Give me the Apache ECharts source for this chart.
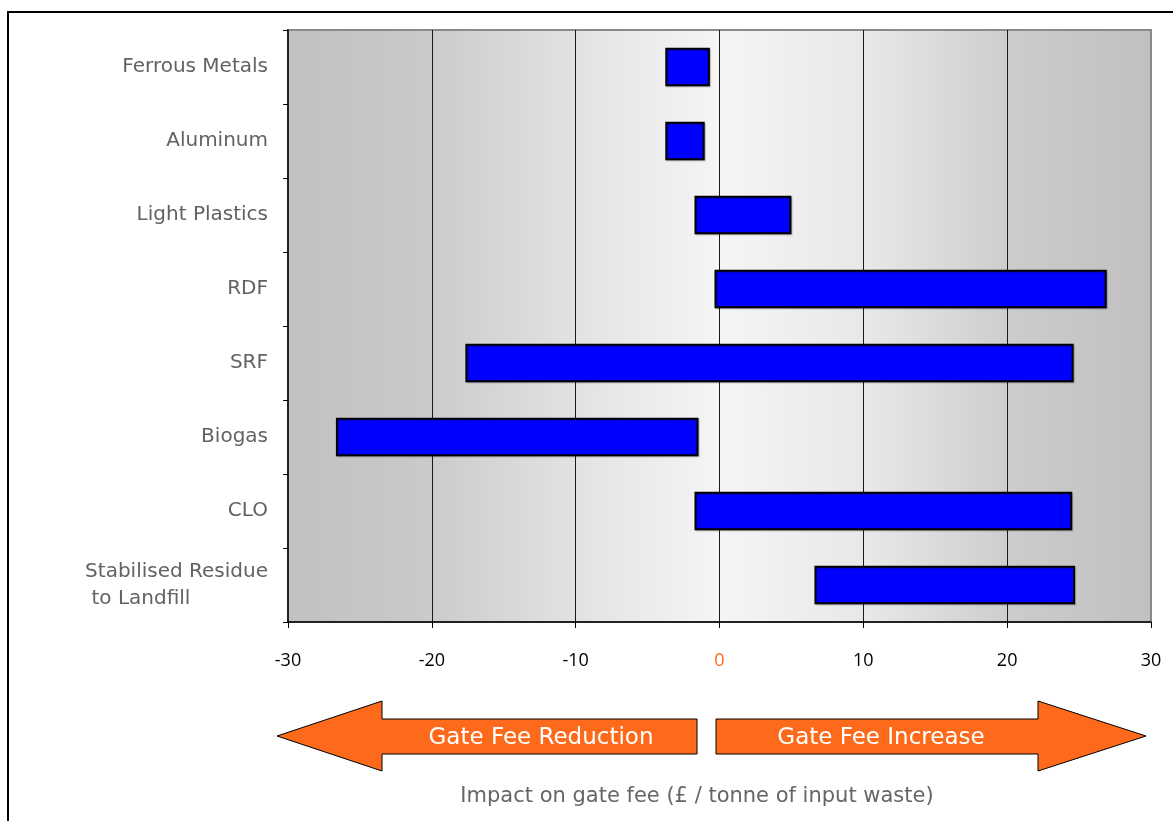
<!DOCTYPE html>
<html>
<head>
<meta charset="utf-8">
<title>Impact on gate fee</title>
<script src="https://cdn.jsdelivr.net/npm/echarts@6/dist/echarts.min.js"></script>
<style>
  html, body { margin: 0; padding: 0; background: #fff; }
  #chart { width: 1173px; height: 821px; }
</style>
</head>
<body>
<div id="chart"></div>
<script>
// Output streams, top to bottom
const categories = [
  'Ferrous Metals',
  'Aluminum',
  'Light Plastics',
  'RDF',
  'SRF',
  'Biogas',
  'CLO',
  'Stabilised Residue\n to Landfill'
];
// Range of impact on gate fee (£ / tonne of input waste) for each stream
const lowValues  = [-3.7, -3.7, -1.67, -0.28, -17.6, -26.6, -1.67, 6.67];
const highValues = [-0.74, -1.1, 4.93, 26.85, 24.55, -1.53, 24.45, 24.65];
// Axis ticks
const xTicks = { min: -30, max: 30, interval: 10 };

const rangeData = categories.map((c, i) => [i, lowValues[i], highValues[i]]);

const chart = echarts.init(document.getElementById('chart'), null, { renderer: 'canvas' });

const orange = '#fd6a1b';
const labelFont = 'DejaVu Sans, sans-serif';

// Direction arrows under the axis
function leftArrow() {
  return [[277, 736], [382, 701], [382, 719], [697, 719], [697, 754], [382, 754], [382, 771]];
}
function rightArrow() {
  return [[716, 719], [1038, 719], [1038, 701], [1146, 736], [1038, 771], [1038, 754], [716, 754]];
}

chart.setOption({
  animation: false,
  grid: {
    left: 288, top: 30, right: 22, bottom: 199,
    show: true,
    borderColor: '#8a8a8a',
    borderWidth: 2,
    backgroundColor: {
      type: 'linear', x: 0, y: 0, x2: 1, y2: 0,
      colorStops: [
        { offset: 0, color: '#c1c1c1' },
        { offset: 0.15, color: '#c9c9c9' },
        { offset: 0.33, color: '#e2e2e2' },
        { offset: 0.5, color: '#f5f5f5' },
        { offset: 0.67, color: '#e8e8e8' },
        { offset: 0.85, color: '#cbcbcb' },
        { offset: 1, color: '#c0c0c0' }
      ]
    }
  },
  xAxis: {
    type: 'value',
    min: xTicks.min, max: xTicks.max, interval: xTicks.interval,
    axisLine: { show: true, onZero: false, lineStyle: { color: '#000', width: 1.5 } },
    axisTick: { show: true, length: 6, lineStyle: { color: '#000' } },
    splitLine: { show: true, showMinLine: false, showMaxLine: false, lineStyle: { color: '#1a1a1a', width: 1 } },
    axisLabel: {
      margin: 30,
      fontFamily: 'Open Sans, sans-serif',
      fontSize: 18,
      color: '#000',
      formatter: v => (v === 0 ? '{z|0}' : String(v)),
      rich: { z: { color: orange, fontFamily: 'Open Sans, sans-serif', fontSize: 18 } }
    }
  },
  yAxis: {
    type: 'category',
    data: categories,
    inverse: true,
    axisLine: { show: true, onZero: false, lineStyle: { color: '#000', width: 1.5 } },
    axisTick: { show: true, length: 5, lineStyle: { color: '#000' } },
    splitLine: { show: false },
    axisLabel: {
      margin: 20,
      fontFamily: labelFont,
      fontSize: 20,
      lineHeight: 27,
      color: '#626262',
      align: 'right',
      // two-line labels keep their lines flush left inside the block
      formatter: v => (v.indexOf('\n') >= 0
        ? v.split('\n').map(s => '{l|' + s + '}').join('\n')
        : v),
      rich: {
        l: { align: 'left', fontFamily: labelFont, fontSize: 20, lineHeight: 27, color: '#626262' }
      }
    }
  },
  series: [{
    type: 'custom',
    data: rangeData,
    encode: { x: [1, 2], y: 0 },
    renderItem(params, api) {
      const lo = api.coord([api.value(1), api.value(0)]);
      const hi = api.coord([api.value(2), api.value(0)]);
      const h = api.size([0, 1])[1] * 0.49;
      return {
        type: 'rect',
        shape: { x: lo[0], y: lo[1] - h / 2, width: hi[0] - lo[0], height: h },
        style: {
          fill: '#0000ff',
          stroke: '#000',
          lineWidth: 2,
          shadowColor: 'rgba(0,0,0,0.25)',
          shadowOffsetX: 1,
          shadowOffsetY: 1,
          shadowBlur: 1
        }
      };
    }
  }],
  graphic: [
    {
      type: 'rect',
      shape: { x: 8, y: 12, width: 1200, height: 900 },
      style: { fill: 'none', stroke: '#000', lineWidth: 2 },
      silent: true
    },
    {
      type: 'polygon',
      shape: { points: leftArrow() },
      style: { fill: orange, stroke: '#000', lineWidth: 1 }
    },
    {
      type: 'polygon',
      shape: { points: rightArrow() },
      style: { fill: orange, stroke: '#000', lineWidth: 1 }
    },
    {
      type: 'text',
      x: 541, y: 738,
      style: {
        text: 'Gate Fee Reduction',
        fill: '#fff',
        font: '23px ' + labelFont,
        align: 'center', verticalAlign: 'middle'
      }
    },
    {
      type: 'text',
      x: 881, y: 738,
      style: {
        text: 'Gate Fee Increase',
        fill: '#fff',
        font: '23px ' + labelFont,
        align: 'center', verticalAlign: 'middle'
      }
    },
    {
      type: 'text',
      x: 697, y: 797,
      style: {
        text: 'Impact on gate fee (£ / tonne of input waste)',
        fill: '#666',
        font: '21px ' + labelFont,
        align: 'center', verticalAlign: 'middle'
      }
    }
  ]
});
</script>
</body>
</html>
